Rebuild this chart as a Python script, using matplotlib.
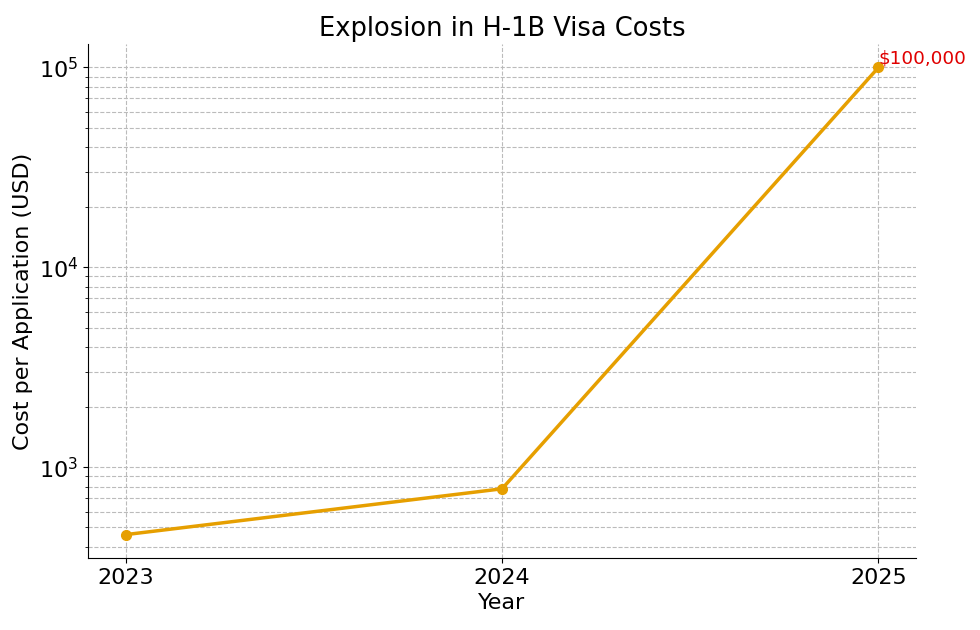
import matplotlib.pyplot as plt

# H-1B cost per application by year
years = [2023, 2024, 2025]
costs = [460, 780, 100000]
annotation_label = "\\$100,000"

plt.figure(figsize=(9.8, 6.3), dpi=100)
ax = plt.axes([0.0898, 0.1143, 0.845, 0.8157])

ax.plot(years, costs, marker="o", color="#E69F00", linewidth=2.5, markersize=7)
ax.set_yscale("log")
ax.set_xticks(years)
ax.set_xticklabels([str(y) for y in years])

ax.text(years[-1], costs[-1], annotation_label, color="#E00000", fontsize=13.3,
        ha="left", va="bottom")

ax.set_title("Explosion in H-1B Visa Costs", fontsize=18.5)
ax.set_xlabel("Year", fontsize=16)
ax.set_ylabel("Cost per Application (USD)", fontsize=16)
ax.tick_params(axis="both", which="major", labelsize=16)

ax.grid(True, which="both", linestyle="--", color="#BBBBBB", linewidth=0.8)
ax.spines["top"].set_visible(False)
ax.spines["right"].set_visible(False)

plt.savefig("out.png", dpi=100)
